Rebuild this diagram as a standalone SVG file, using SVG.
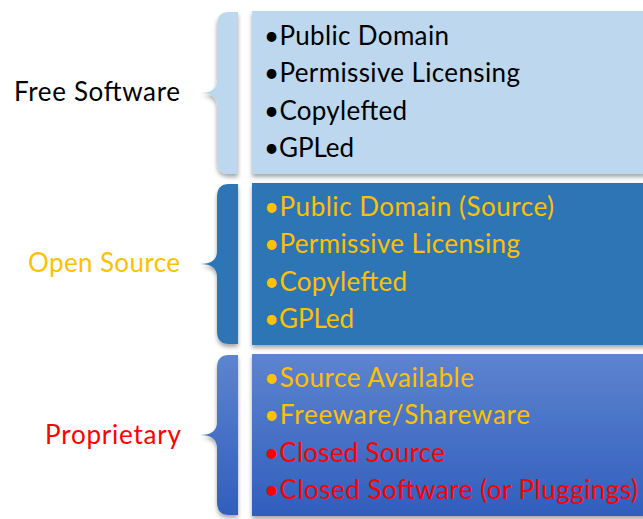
<svg xmlns="http://www.w3.org/2000/svg" width="643" height="519" viewBox="0 0 643 519">
<style>
text{font-family:Lato,"Open Sans",sans-serif;font-size:26px}
.lab{font-size:26px}
.blk{fill:#000}
.gold{fill:#FFC000}
.red{fill:#FF0000}
</style>
<defs>
<filter id="sh" x="-10%" y="-10%" width="120%" height="125%">
<feDropShadow dx="0" dy="3" stdDeviation="2" flood-color="#000" flood-opacity="0.35"/>
</filter>
<linearGradient id="g3" x1="0" y1="0" x2="0" y2="1">
<stop offset="0" stop-color="#5D84CF"/>
<stop offset="1" stop-color="#315EBD"/>
</linearGradient>
</defs>
<g id="free">
<path filter="url(#sh)" fill="#BDD7EE" d="M238,12 L229,12 Q217,12 217,25 L217,80 Q217,93 200,93 Q217,93 217,106 L217,161 Q217,174 229,174 L238,174 Z"/>
<rect filter="url(#sh)" x="252" y="11" width="395" height="163" fill="#BDD7EE"/>
<text class="lab blk" x="14" y="101" textLength="166">Free Software</text>
<text class="blk" x="264" y="45" textLength="185">•Public Domain</text>
<text class="blk" x="264" y="82" textLength="256">•Permissive Licensing</text>
<text class="blk" x="264" y="120" textLength="143">•Copylefted</text>
<text class="blk" x="264" y="157" textLength="90">•GPLed</text>
</g>
<g id="open">
<path filter="url(#sh)" fill="#2E75B6" d="M238,184 L229,184 Q217,184 217,197 L217,251 Q217,264 200,264 Q217,264 217,277 L217,331 Q217,344 229,344 L238,344 Z"/>
<rect filter="url(#sh)" x="252" y="183" width="395" height="162" fill="#2E75B6"/>
<text class="lab gold" x="28" y="272" textLength="152">Open Source</text>
<text class="gold" x="264" y="216" textLength="290">•Public Domain (Source)</text>
<text class="gold" x="264" y="253" textLength="256">•Permissive Licensing</text>
<text class="gold" x="264" y="291" textLength="143">•Copylefted</text>
<text class="gold" x="264" y="328" textLength="90">•GPLed</text>
</g>
<g id="proprietary">
<path filter="url(#sh)" fill="url(#g3)" d="M238,355 L229,355 Q217,355 217,368 L217,422 Q217,435 200,435 Q217,435 217,448 L217,502 Q217,515 229,515 L238,515 Z"/>
<rect filter="url(#sh)" x="252" y="354" width="395" height="162" fill="url(#g3)"/>
<text class="lab red" x="45" y="444" textLength="136">Proprietary</text>
<text class="gold" x="264" y="387" textLength="210">•Source Available</text>
<text class="gold" x="264" y="424" textLength="266">•Freeware/Shareware</text>
<text class="red" x="264" y="462" textLength="181">•Closed Source</text>
<text class="red" x="264" y="499" textLength="374">•Closed Software (or Pluggings)</text>
</g>
<g id="connectors"/>
</svg>
